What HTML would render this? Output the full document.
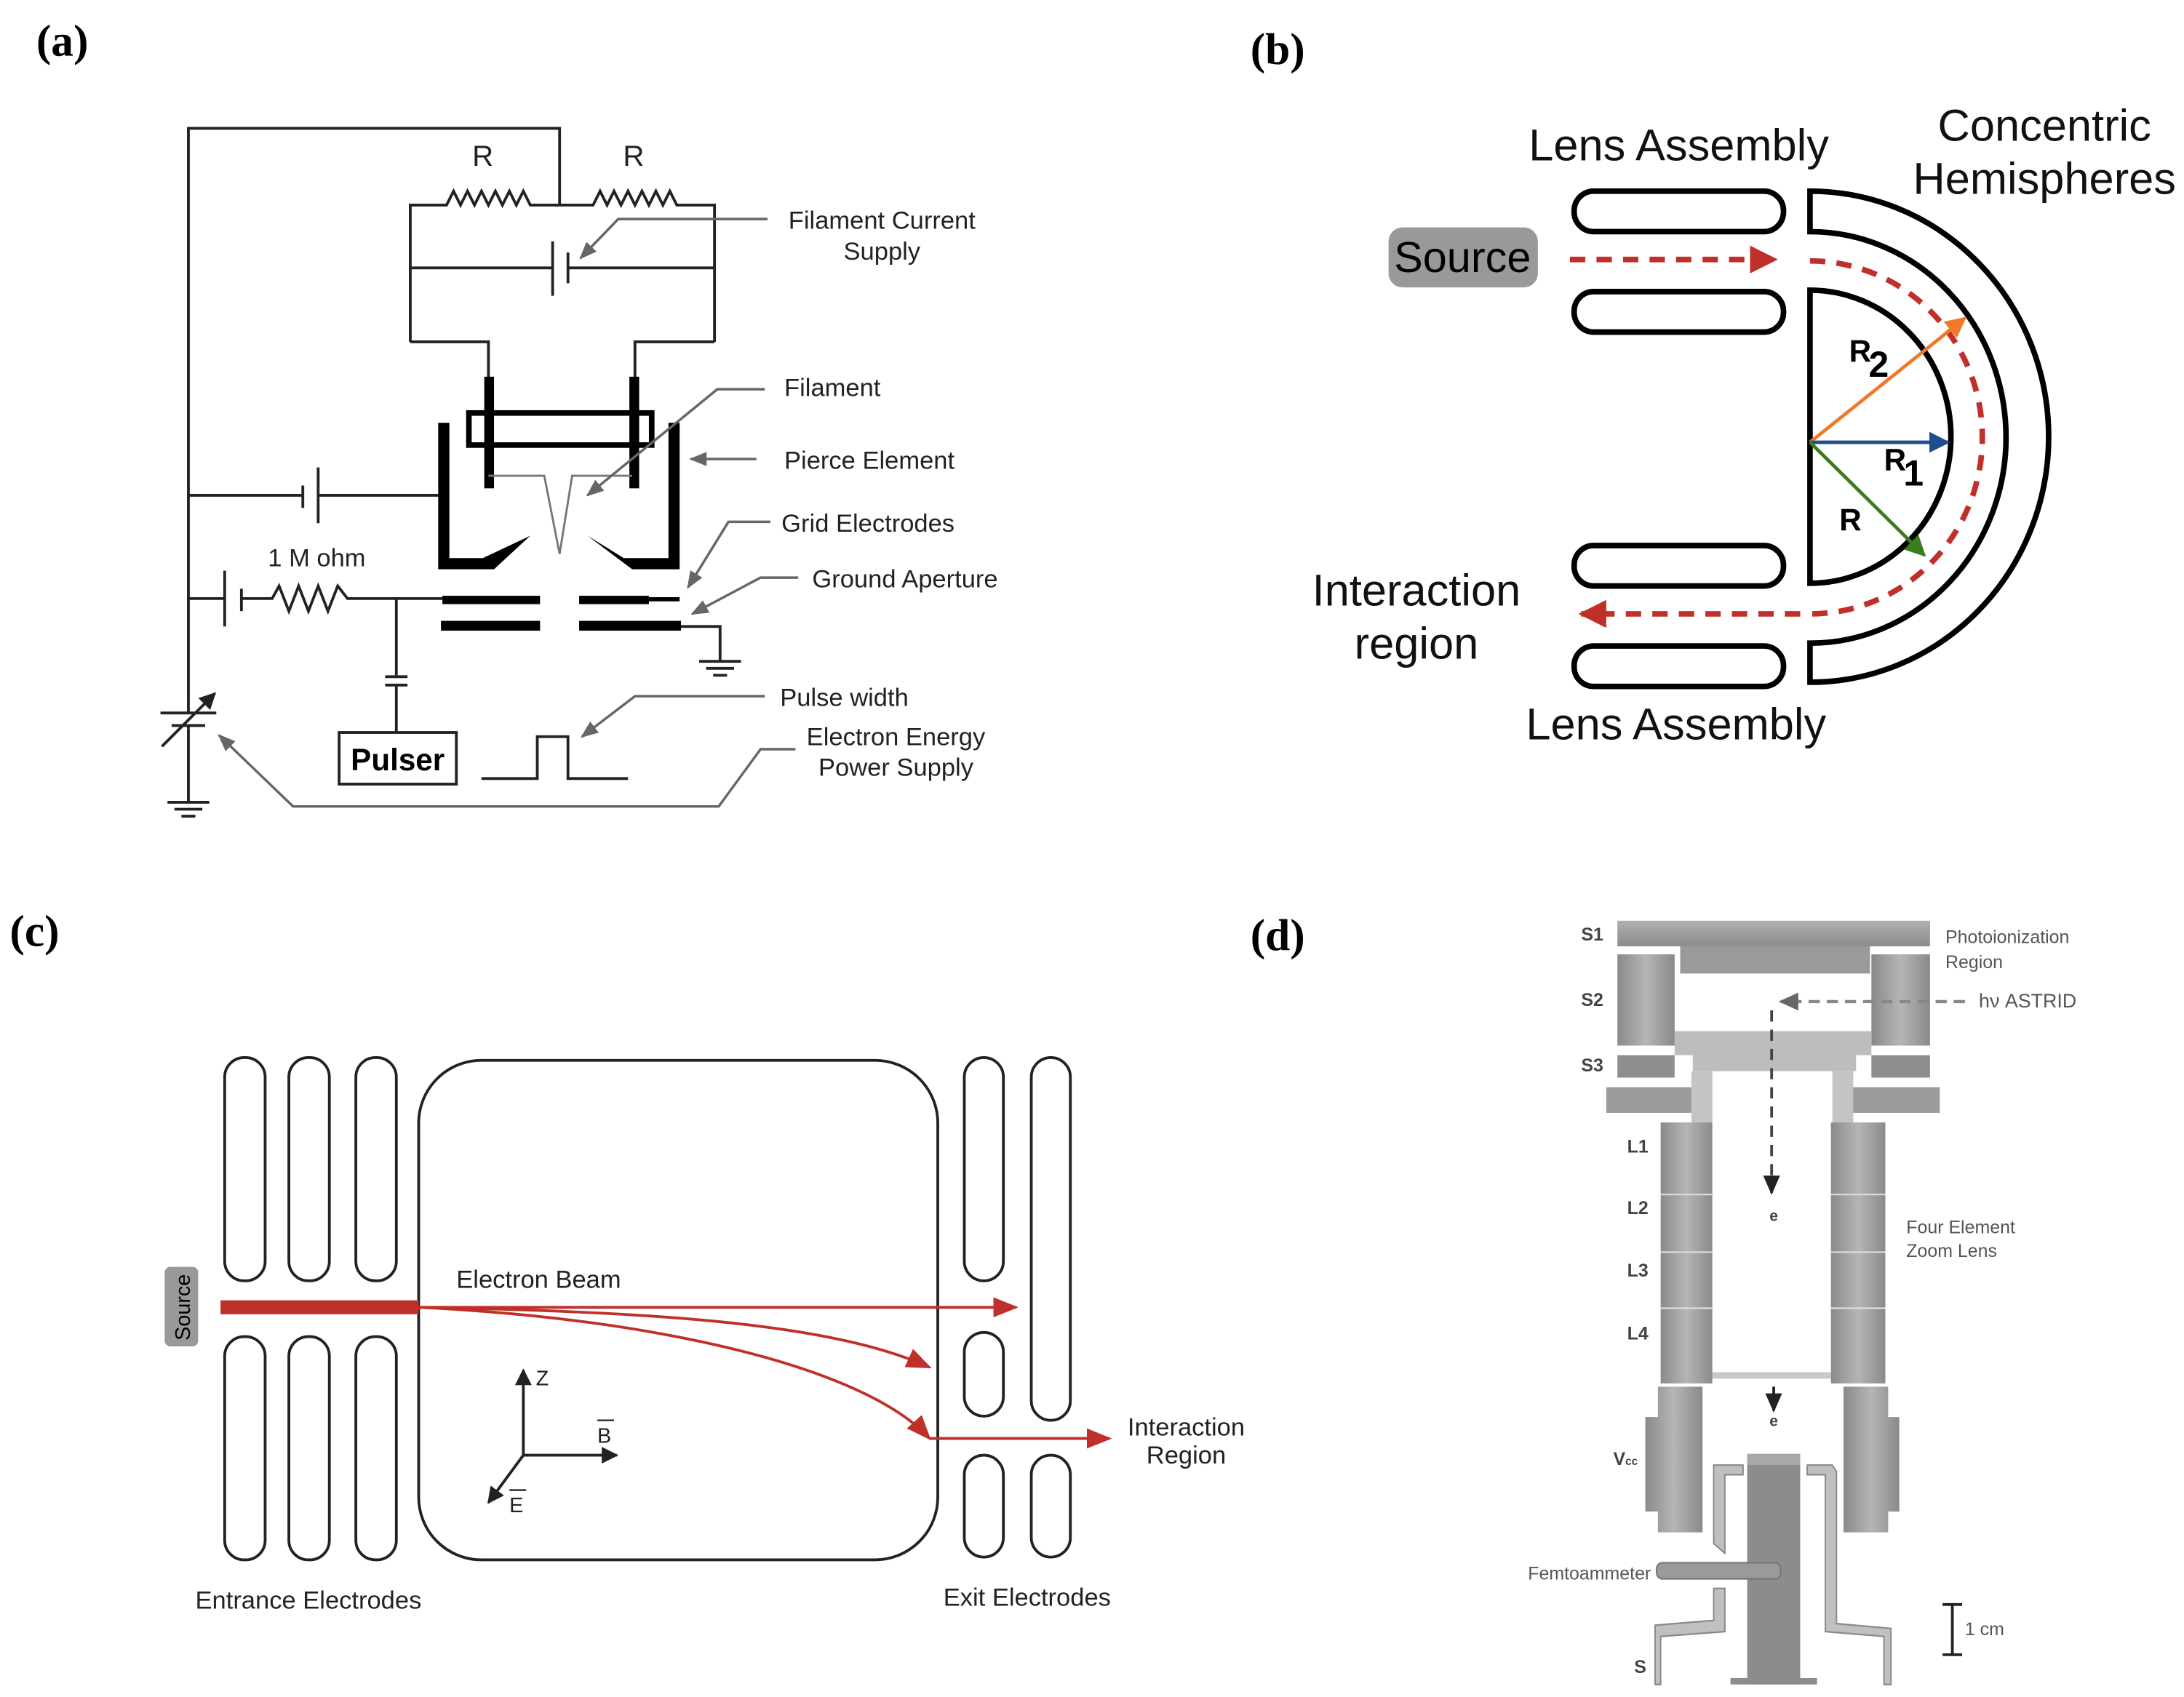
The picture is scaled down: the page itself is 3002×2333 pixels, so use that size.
<!DOCTYPE html>
<html><head><meta charset="utf-8"><style>
html,body{margin:0;padding:0;background:#fff}
svg{display:block}
text{font-family:"Liberation Sans",sans-serif}
text.ser{font-family:"Liberation Serif",serif}
</style></head><body>
<svg width="3002" height="2333" viewBox="0 0 1565 1216.3" preserveAspectRatio="none" xmlns="http://www.w3.org/2000/svg">
<defs>
<marker id="ga" viewBox="0 0 10 10" refX="9" refY="5" markerWidth="7" markerHeight="7" orient="auto"><path d="M0,1 L10,5 L0,9 Z" fill="#666"/></marker>
<marker id="ra" viewBox="0 0 10 10" refX="9" refY="5" markerWidth="5" markerHeight="5" orient="auto"><path d="M0,0 L10,5 L0,10 Z" fill="#c0302a"/></marker>
<marker id="rs" viewBox="0 0 10 10" refX="9" refY="5" markerWidth="9" markerHeight="9" orient="auto"><path d="M0,1 L10,5 L0,9 Z" fill="#c0302a"/></marker>
<marker id="oa" viewBox="0 0 10 10" refX="9" refY="5" markerWidth="6" markerHeight="6" orient="auto"><path d="M0,0 L10,5 L0,10 Z" fill="#f07a2a"/></marker>
<marker id="ba" viewBox="0 0 10 10" refX="9" refY="5" markerWidth="6" markerHeight="6" orient="auto"><path d="M0,0 L10,5 L0,10 Z" fill="#1f4e8c"/></marker>
<marker id="gra" viewBox="0 0 10 10" refX="9" refY="5" markerWidth="6" markerHeight="6" orient="auto"><path d="M0,0 L10,5 L0,10 Z" fill="#3a7d1e"/></marker>
<marker id="ka" viewBox="0 0 10 10" refX="9" refY="5" markerWidth="6" markerHeight="6" orient="auto"><path d="M0,0 L10,5 L0,10 Z" fill="#222"/></marker>
<linearGradient id="gh" x1="0" x2="1" y1="0" y2="0"><stop offset="0" stop-color="#8a8a8a"/><stop offset="0.5" stop-color="#b5b5b5"/><stop offset="1" stop-color="#8a8a8a"/></linearGradient>
<linearGradient id="gv" x1="0" x2="0" y1="0" y2="1"><stop offset="0" stop-color="#b0b0b0"/><stop offset="1" stop-color="#8d8d8d"/></linearGradient>
</defs>

<!-- ===== Panel (a) ===== -->
<text class="ser" x="26" y="40" font-weight="bold" font-size="32">(a)</text>
<g stroke="#222" stroke-width="2" fill="none">
<polyline points="401,147 401,92 135,92 135,500"/>
<line x1="135" y1="522" x2="135" y2="575"/>
<polyline points="294,245 294,147 320,147 325,137 330,147 335,137 340,147 345,137 350,147 355,137 360,147 365,137 370,147 375,137 380,147 425,147 430,137 435,147 440,137 445,147 450,137 455,147 460,137 465,147 470,137 475,147 480,137 485,147 512,147 512,245"/>
<line x1="294" y1="192" x2="396" y2="192"/><line x1="407" y1="192" x2="512" y2="192"/>
<line x1="396" y1="173" x2="396" y2="212"/><line x1="407" y1="181" x2="407" y2="203"/>
<polyline points="294,245 350,245 350,272"/><polyline points="512,245 455,245 455,272"/>
<line x1="135" y1="355" x2="217" y2="355"/><line x1="228" y1="355" x2="316" y2="355"/>
<line x1="217" y1="348" x2="217" y2="364"/><line x1="228" y1="335" x2="228" y2="375"/>
<line x1="135" y1="429" x2="161" y2="429"/><line x1="161" y1="409" x2="161" y2="449"/><line x1="173" y1="422" x2="173" y2="438"/>
<polyline points="173,429 195,429 200,420 207,438 214,420 221,438 228,420 235,438 242,420 249,429 317,429"/>
<line x1="284" y1="429" x2="284" y2="484"/><line x1="276" y1="485" x2="292" y2="485"/><line x1="276" y1="491" x2="292" y2="491"/><line x1="284" y1="491" x2="284" y2="525"/>
<polyline points="487,449 516,449 516,474"/>
<line x1="115" y1="511" x2="155" y2="511"/><line x1="123" y1="520" x2="147" y2="520"/>
<line x1="135" y1="500" x2="135" y2="511"/><line x1="135" y1="520" x2="135" y2="522"/>
<line x1="116" y1="535" x2="154" y2="497" marker-end="url(#ka)"/>
<line x1="120" y1="575" x2="150" y2="575"/><line x1="125" y1="580" x2="145" y2="580"/><line x1="130" y1="585" x2="140" y2="585"/>
<line x1="501" y1="474" x2="531" y2="474"/><line x1="506" y1="479" x2="526" y2="479"/><line x1="511" y1="484" x2="521" y2="484"/>
<polyline points="345,558 385,558 385,528 407,528 407,558 450,558"/>
</g>
<rect x="347" y="270" width="7" height="80" fill="#000"/>
<rect x="451" y="270" width="7" height="80" fill="#000"/>
<rect x="336" y="296" width="131" height="23" fill="none" stroke="#000" stroke-width="4"/>
<polygon points="314,303 322,303 322,400 346,400 380,384 354,408 314,408" fill="#000"/>
<polygon points="487,303 479,303 479,400 447,400 421,384 453,408 487,408" fill="#000"/>
<polyline points="350,341 390,341 401,397 410,341 453,341" fill="none" stroke="#777" stroke-width="1.5"/>
<rect x="317" y="427" width="70" height="6" fill="#000"/>
<rect x="415" y="427" width="50" height="6" fill="#000"/><rect x="465" y="428" width="22" height="3" fill="#000"/>
<rect x="316" y="445" width="71" height="7" fill="#000"/><rect x="415" y="445" width="73" height="7" fill="#000"/>
<rect x="243" y="525" width="84" height="37" fill="#fff" stroke="#222" stroke-width="2"/>
<text x="285" y="552" font-size="22" font-weight="bold" text-anchor="middle">Pulser</text>
<g stroke="#666" stroke-width="1.8" fill="none">
<polyline points="550,157 443,157 416,185" marker-end="url(#ga)"/>
<polyline points="548,279 514,279 421,355" marker-end="url(#ga)"/>
<line x1="542" y1="329" x2="495" y2="329" marker-end="url(#ga)"/>
<polyline points="552,374 522,374 493,421" marker-end="url(#ga)"/>
<polyline points="572,414 545,414 496,440" marker-end="url(#ga)"/>
<polyline points="548,499 455,499 417,528" marker-end="url(#ga)"/>
<polyline points="570,537 545,537 515,578 210,578 157,527" marker-end="url(#ga)"/>
</g>
<g font-size="18" fill="#222">
<text x="346" y="119" font-size="21" text-anchor="middle">R</text>
<text x="454" y="119" font-size="21" text-anchor="middle">R</text>
<text x="632" y="164" text-anchor="middle">Filament Current</text>
<text x="632" y="186" text-anchor="middle">Supply</text>
<text x="562" y="284">Filament</text>
<text x="562" y="336">Pierce Element</text>
<text x="560" y="381">Grid Electrodes</text>
<text x="582" y="421">Ground Aperture</text>
<text x="192" y="406">1 M ohm</text>
<text x="559" y="506">Pulse width</text>
<text x="642" y="534" text-anchor="middle">Electron Energy</text>
<text x="642" y="556" text-anchor="middle">Power Supply</text>
</g>

<!-- ===== Panel (b) ===== -->
<text class="ser" x="896" y="46" font-weight="bold" font-size="32">(b)</text>
<g fill="none" stroke="#000" stroke-width="4">
<rect x="1128" y="137" width="150" height="29" rx="14"/>
<rect x="1128" y="209" width="150" height="29" rx="14"/>
<rect x="1128" y="391" width="150" height="29" rx="14"/>
<rect x="1128" y="463" width="150" height="29" rx="14"/>
<path d="M1297,137 A171,176 0 0 1 1297,489 L1297,461 A140,147 0 0 0 1297,166 Z"/>
<path d="M1297,208 A101,105 0 0 1 1297,418 Z"/>
</g>
<rect x="995" y="163" width="107" height="43" rx="10" fill="#999"/>
<text x="1048" y="195" font-size="31" text-anchor="middle">Source</text>
<g stroke="#c0302a" stroke-width="4" fill="none" stroke-dasharray="11,8">
<line x1="1125" y1="186" x2="1272" y2="186" marker-end="url(#ra)"/>
<path d="M1297,187 A123,126 0 0 1 1297,440"/>
<line x1="1290" y1="440" x2="1133" y2="440" marker-end="url(#ra)"/>
</g>
<line x1="1297" y1="317" x2="1408" y2="228" stroke="#f07a2a" stroke-width="2.5" marker-end="url(#oa)"/>
<line x1="1297" y1="317" x2="1396" y2="317" stroke="#1f4e8c" stroke-width="2.5" marker-end="url(#ba)"/>
<line x1="1297" y1="317" x2="1379" y2="398" stroke="#3a7d1e" stroke-width="2.5" marker-end="url(#gra)"/>
<g font-weight="bold">
<text x="1325" y="259" font-size="22">R</text><text x="1339" y="270" font-size="26">2</text>
<text x="1350" y="337" font-size="22">R</text><text x="1364" y="348" font-size="26">1</text>
<text x="1318" y="380" font-size="22">R</text>
</g>
<g font-size="32" fill="#111" text-anchor="middle">
<text x="1203" y="115">Lens Assembly</text>
<text x="1465" y="101">Concentric</text>
<text x="1465" y="139">Hemispheres</text>
<text x="1015" y="434">Interaction</text>
<text x="1015" y="472">region</text>
<text x="1201" y="530">Lens Assembly</text>
</g>

<!-- ===== Panel (c) ===== -->
<text class="ser" x="7" y="678" font-weight="bold" font-size="32">(c)</text>
<g fill="none" stroke="#222" stroke-width="2">
<rect x="161" y="758" width="29" height="160" rx="14"/><rect x="207" y="758" width="29" height="160" rx="14"/><rect x="255" y="758" width="29" height="160" rx="14"/>
<rect x="161" y="958" width="29" height="160" rx="14"/><rect x="207" y="958" width="29" height="160" rx="14"/><rect x="255" y="958" width="29" height="160" rx="14"/>
<rect x="300" y="760" width="372" height="358" rx="45"/>
<rect x="691" y="758" width="28" height="160" rx="14"/><rect x="691" y="955" width="28" height="60" rx="14"/><rect x="691" y="1043" width="28" height="73" rx="14"/>
<rect x="739" y="758" width="28" height="260" rx="14"/><rect x="739" y="1043" width="28" height="73" rx="14"/>
</g>
<rect x="118" y="908" width="24" height="57" rx="4" fill="#999"/>
<text transform="translate(136,937) rotate(-90)" font-size="15" text-anchor="middle">Source</text>
<rect x="158" y="932" width="142" height="10" fill="#c0302a"/>
<g stroke="#c0302a" stroke-width="2" fill="none">
<line x1="300" y1="937" x2="728" y2="937" marker-end="url(#rs)"/>
<path d="M300,937 C480,940 600,950 666,980" marker-end="url(#rs)"/>
<path d="M300,937 C470,945 620,980 666,1031" marker-end="url(#rs)"/>
<line x1="666" y1="1031" x2="795" y2="1031" marker-end="url(#rs)"/>
</g>
<g stroke="#222" stroke-width="2" fill="none">
<line x1="375" y1="1043" x2="375" y2="982" marker-end="url(#ka)"/>
<line x1="375" y1="1043" x2="442" y2="1043" marker-end="url(#ka)"/>
<line x1="375" y1="1043" x2="350" y2="1077" marker-end="url(#ka)"/>
<line x1="428" y1="1018" x2="440" y2="1018" stroke-width="1.2"/>
<line x1="365" y1="1068" x2="377" y2="1068" stroke-width="1.2"/>
</g>
<g font-size="18" fill="#222">
<text x="327" y="923">Electron Beam</text>
<text x="384" y="993" font-size="15">Z</text>
<text x="428" y="1034" font-size="15">B</text>
<text x="365" y="1084" font-size="15">E</text>
<text x="221" y="1153" text-anchor="middle">Entrance Electrodes</text>
<text x="736" y="1151" text-anchor="middle">Exit Electrodes</text>
<text x="850" y="1029" text-anchor="middle">Interaction</text>
<text x="850" y="1049" text-anchor="middle">Region</text>
</g>

<!-- ===== Panel (d) ===== -->
<text class="ser" x="896" y="681" font-weight="bold" font-size="32">(d)</text>
<g transform="translate(0,649) scale(1,1.1476) translate(0,-646.5)">
<rect x="1159" y="656" width="224" height="16" fill="url(#gv)"/>
<rect x="1204" y="672" width="136" height="17" fill="#9a9a9a"/>
<rect x="1159" y="677" width="41" height="57" fill="url(#gh)"/>
<rect x="1341" y="677" width="42" height="57" fill="url(#gh)"/>
<rect x="1159" y="740" width="41" height="14" fill="#8e8e8e"/>
<rect x="1341" y="740" width="42" height="14" fill="#8e8e8e"/>
<path d="M1200,725 L1341,725 L1341,740 L1330,740 L1330,750 L1213,750 L1213,740 L1200,740 Z" fill="#bdbdbd"/>
<rect x="1151" y="760" width="66" height="16" fill="#9b9b9b"/>
<rect x="1324" y="760" width="66" height="16" fill="#9b9b9b"/>
<rect x="1212" y="750" width="15" height="32" fill="#c4c4c4"/>
<rect x="1313" y="750" width="15" height="32" fill="#c4c4c4"/>
<rect x="1190" y="782" width="37" height="163" fill="url(#gh)"/>
<rect x="1312" y="782" width="39" height="163" fill="url(#gh)"/>
<g stroke="#ddd" stroke-width="1">
<line x1="1190" y1="827" x2="1227" y2="827"/><line x1="1190" y1="863" x2="1227" y2="863"/><line x1="1190" y1="898" x2="1227" y2="898"/>
<line x1="1312" y1="827" x2="1351" y2="827"/><line x1="1312" y1="863" x2="1351" y2="863"/><line x1="1312" y1="898" x2="1351" y2="898"/>
</g>
<rect x="1227" y="938" width="85" height="4" fill="#c8c8c8"/>
<path d="M1188,947 L1220,947 L1220,1038 L1188,1038 L1188,1025 L1179,1025 L1179,966 L1188,966 Z" fill="url(#gh)"/>
<path d="M1321,947 L1353,947 L1353,966 L1361,966 L1361,1025 L1353,1025 L1353,1038 L1321,1038 Z" fill="url(#gh)"/>
<path d="M1228,996 L1249,996 L1249,1002 L1236,1002 L1236,1051 L1228,1045 Z" fill="#c0c0c0" stroke="#888" stroke-width="1"/>
<path d="M1228,1073 L1236,1073 L1236,1100 L1190,1103 L1190,1133 L1186,1133 L1186,1096 L1228,1093 Z" fill="#c0c0c0" stroke="#888" stroke-width="1"/>
<path d="M1295,996 L1313,996 L1316,1000 L1316,1095 L1355,1098 L1355,1133 L1350,1133 L1350,1103 L1308,1100 L1308,1002 L1295,1002 Z" fill="#c0c0c0" stroke="#888" stroke-width="1"/>
<rect x="1252" y="989" width="38" height="144" fill="#8c8c8c"/>
<rect x="1252" y="989" width="38" height="7" fill="#a8a8a8"/>
<rect x="1240" y="1129" width="62" height="4" fill="#8c8c8c"/>
<rect x="1187" y="1057" width="89" height="10" rx="4" fill="#9a9a9a" stroke="#777" stroke-width="1"/>
<line x1="1269.5" y1="712" x2="1269.5" y2="826" stroke="#444" stroke-width="2" stroke-dasharray="7,5" marker-end="url(#ka)"/>
<line x1="1408" y1="706.5" x2="1276" y2="706.5" stroke="#888" stroke-width="2" stroke-dasharray="8,5" marker-end="url(#ga)"/>
<line x1="1271" y1="947" x2="1271" y2="962" stroke="#222" stroke-width="2" marker-end="url(#ka)"/>
</g>
<line x1="1399" y1="1150" x2="1399" y2="1186" stroke="#222" stroke-width="2"/>
<line x1="1392" y1="1150" x2="1406" y2="1150" stroke="#222" stroke-width="2"/>
<line x1="1392" y1="1186" x2="1406" y2="1186" stroke="#222" stroke-width="2"/>
<g font-size="13" font-weight="bold" fill="#444">
<text x="1133" y="674">S1</text><text x="1133" y="721">S2</text><text x="1133" y="768">S3</text>
<text x="1166" y="826">L1</text><text x="1166" y="870">L2</text><text x="1166" y="915">L3</text><text x="1166" y="960">L4</text>
<text x="1156" y="1050">V<tspan font-size="8">cc</tspan></text>
<text x="1171" y="1199">S</text>
<text x="1268" y="875" font-size="11">e</text><text x="1268" y="1022" font-size="11">e</text>
</g>
<g font-size="13" fill="#555">
<text x="1183" y="1132" text-anchor="end">Femtoammeter</text>
<text x="1394" y="676">Photoionization</text>
<text x="1394" y="694">Region</text>
<text x="1418" y="722" font-size="14">hν  ASTRID</text>
<text x="1366" y="884">Four Element</text>
<text x="1366" y="901">Zoom Lens</text>
<text x="1408" y="1172">1 cm</text>
</g>
</svg>
</body></html>
